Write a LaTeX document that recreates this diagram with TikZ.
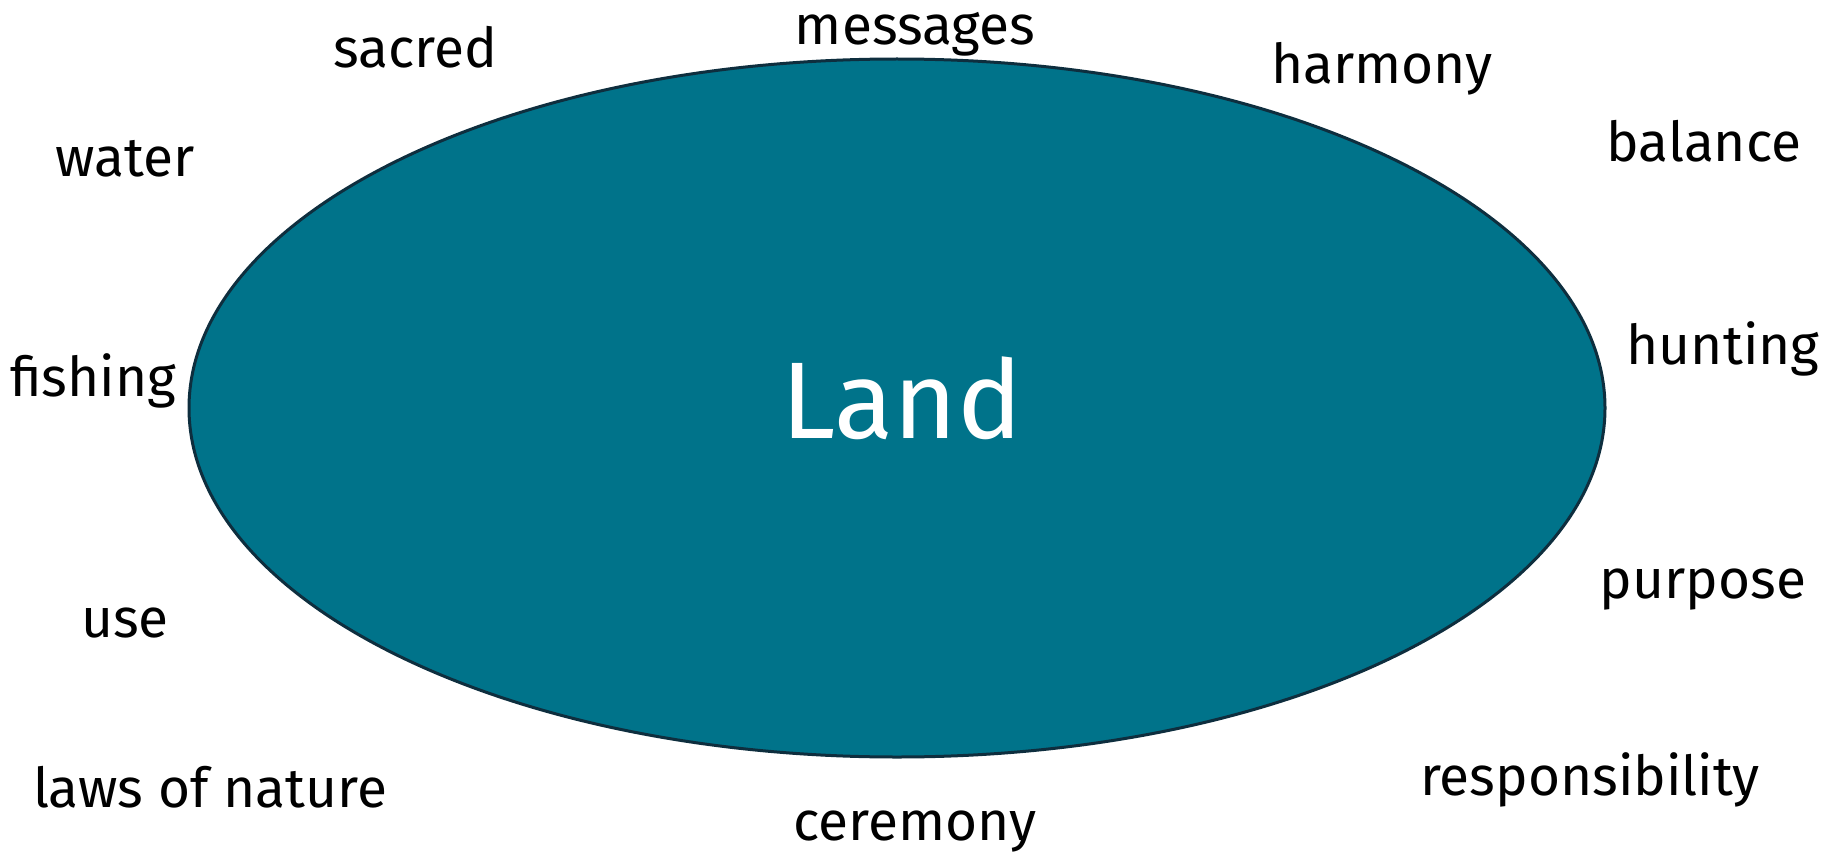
\documentclass[tikz,border=0pt]{standalone}
\usepackage{fontspec}
\setmainfont{Fira Sans}
\usetikzlibrary{shapes.geometric}
\definecolor{landfill}{HTML}{00738A}
\definecolor{landedge}{HTML}{0E2E3E}
\begin{document}
\begin{tikzpicture}[x=1pt,y=-1pt,
  word/.style={font=\fontsize{55}{66}\selectfont, text=black, inner sep=0pt, anchor=base}]
\useasboundingbox (0,0) rectangle (1839,856);
\draw[fill=landfill, draw=landedge, line width=3pt] (897,408) ellipse [x radius=708, y radius=349];
\node[font=\fontsize{109}{130}\selectfont, text=white, inner sep=0pt, anchor=base] (land) at (902,438) {Land};
\node[word] (messages) at (915,45) {messages};
\node[word] (sacred) at (415,68) {sacred};
\node[word] (harmony) at (1382,84) {harmony};
\node[word] (water) at (125,176) {water};
\node[word] (balance) at (1704,161) {balance};
\node[word] (fishing) at (93,396) {fishing};
\node[word] (hunting) at (1723,364) {hunting};
\node[word] (use) at (125,637) {use};
\node[word] (purpose) at (1703,598) {purpose};
\node[word] (laws) at (210,807) {laws of nature};
\node[word] (resp) at (1590,795) {responsibility};
\node[word] (ceremony) at (915,840) {ceremony};
\end{tikzpicture}
\end{document}
